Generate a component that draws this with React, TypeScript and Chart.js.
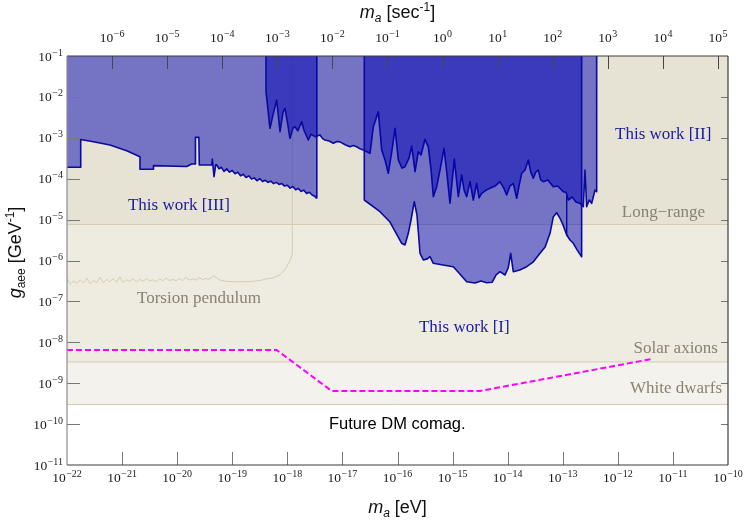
import React, { useEffect, useRef } from 'react';
import { Chart, registerables } from 'chart.js';

Chart.register(...registerables);

// All values are log10: x = log10(m_a / eV), y = log10(g_aee / GeV^-1)
const HBAR_EV_S = 6.582e-16;
const xMinEv = -22;
const xMaxEv = -10;
const yMinG = -11;
const yMaxG = -1;
const xTicksEv = [-22, -21, -20, -19, -18, -17, -16, -15, -14, -13, -12, -11, -10];
const xTicksSec = [-6, -5, -4, -3, -2, -1, 0, 1, 2, 3, 4, 5];
const yTicksG = [-11, -10, -9, -8, -7, -6, -5, -4, -3, -2, -1];

const longRangeLimit = -5.12;
const solarAxionLimit = -8.48;
const whiteDwarfLimit = -9.52;

const torsionPendulum: [number, number][] = [
  [-22.0, -6.44], [-21.94, -6.58], [-21.88, -6.5], [-21.82, -6.56], [-21.76, -6.47], [-21.7, -6.55],
  [-21.64, -6.43], [-21.58, -6.57], [-21.52, -6.49], [-21.46, -6.54], [-21.4, -6.41], [-21.34, -6.55],
  [-21.28, -6.46], [-21.22, -6.52], [-21.16, -6.44], [-21.1, -6.53], [-21.04, -6.4], [-20.98, -6.54],
  [-20.92, -6.47], [-20.86, -6.51], [-20.8, -6.45], [-20.74, -6.52], [-20.68, -6.46], [-20.62, -6.51],
  [-20.56, -6.44], [-20.5, -6.5], [-20.44, -6.47], [-20.38, -6.52], [-20.32, -6.45], [-20.26, -6.5],
  [-20.2, -6.43], [-20.14, -6.49], [-20.08, -6.46], [-20.02, -6.5], [-19.96, -6.44], [-19.9, -6.49],
  [-19.84, -6.41], [-19.78, -6.48], [-19.72, -6.45], [-19.66, -6.48], [-19.6, -6.42], [-19.54, -6.47],
  [-19.48, -6.44], [-19.42, -6.46], [-19.36, -6.4], [-19.33, -6.37], [-19.29, -6.42], [-19.22, -6.48],
  [-19.1, -6.51], [-18.95, -6.52], [-18.8, -6.52], [-18.65, -6.51], [-18.5, -6.49], [-18.38, -6.45],
  [-18.25, -6.42], [-18.15, -6.36], [-18.08, -6.28], [-18.02, -6.17], [-17.97, -6.05], [-17.935, -5.95],
  [-17.915, -5.85], [-17.91, -5.6], [-17.91, -1],
];

const thisWorkIII: [number, number][] = [
  [-22.0, -3.72], [-21.751, -3.72], [-21.751, -3.04], [-21.52, -3.095], [-21.22, -3.176], [-20.916, -3.315],
  [-20.675, -3.462], [-20.675, -3.77], [-20.43, -3.77], [-20.43, -3.68], [-19.827, -3.7], [-19.737, -3.64],
  [-19.676, -3.64], [-19.668, -2.99], [-19.606, -2.99], [-19.598, -3.665], [-19.373, -3.665], [-19.362, -3.518],
  [-19.331, -3.951], [-19.3, -3.66], [-19.28, -3.66], [-19.24, -3.76], [-19.2, -3.72], [-19.15, -3.82],
  [-19.1, -3.76], [-19.05, -3.84], [-19.0, -3.8], [-18.95, -3.88], [-18.9, -3.84], [-18.85, -3.93],
  [-18.8, -3.89], [-18.75, -3.97], [-18.7, -3.93], [-18.65, -4.01], [-18.6, -3.98], [-18.55, -4.05],
  [-18.5, -4.0], [-18.45, -4.07], [-18.4, -4.04], [-18.35, -4.09], [-18.3, -4.06], [-18.25, -4.12],
  [-18.2, -4.09], [-18.15, -4.14], [-18.1, -4.12], [-18.05, -4.18], [-18.0, -4.16], [-17.95, -4.23],
  [-17.9, -4.19], [-17.85, -4.27], [-17.8, -4.24], [-17.75, -4.31], [-17.7, -4.28], [-17.65, -4.36],
  [-17.6, -4.33], [-17.55, -4.4], [-17.5, -4.43], [-17.48, -4.47], [-17.465, -4.47], [-17.465, -1],
];

const thisWorkII: [number, number][] = [
  [-18.387, -1], [-18.387, -1.873], [-18.315, -2.768], [-18.26, -2.44], [-18.193, -2.076], [-18.133, -2.851],
  [-18.078, -2.37], [-18.042, -2.279], [-17.99, -2.69], [-17.952, -3.012], [-17.897, -2.76], [-17.861, -2.729],
  [-17.81, -2.83], [-17.739, -2.606], [-17.7, -2.81], [-17.619, -3.054], [-17.57, -2.91], [-17.498, -2.973],
  [-17.407, -2.93], [-17.36, -3.02], [-17.316, -3.054], [-17.24, -3.08], [-17.165, -3.134], [-17.1, -3.09],
  [-17.044, -3.1], [-16.95, -3.17], [-16.862, -3.218], [-16.8, -3.19], [-16.735, -3.225], [-16.68, -3.27],
  [-16.62, -3.298], [-16.499, -3.379], [-16.439, -2.729], [-16.348, -2.362], [-16.287, -3.298], [-16.227, -3.54],
  [-16.167, -3.868], [-16.1, -3.3], [-16.045, -2.768], [-15.985, -3.543], [-15.918, -3.74], [-15.864, -3.707],
  [-15.79, -3.49], [-15.742, -3.2], [-15.682, -3.829], [-15.622, -3.34], [-15.573, -3.42], [-15.501, -3.037],
  [-15.441, -3.218], [-15.39, -3.79], [-15.35, -4.44], [-15.289, -4.196], [-15.228, -3.787], [-15.156, -3.257],
  [-15.1, -3.91], [-15.047, -4.601], [-14.969, -3.518], [-14.896, -4.44], [-14.835, -3.909], [-14.79, -4.28],
  [-14.744, -4.44], [-14.684, -4.073], [-14.624, -4.521], [-14.562, -4.115], [-14.52, -4.47], [-14.472, -4.357],
  [-14.39, -4.28], [-14.321, -4.235], [-14.23, -4.18], [-14.139, -4.073], [-14.07, -4.23], [-14.018, -4.399],
  [-13.96, -4.18], [-13.898, -4.115], [-13.836, -4.479], [-13.79, -4.15], [-13.745, -3.868], [-13.685, -3.787],
  [-13.625, -3.543], [-13.58, -3.84], [-13.535, -3.99], [-13.49, -3.84], [-13.444, -3.787], [-13.4, -4.03],
  [-13.353, -4.073], [-13.27, -4.03], [-13.172, -4.196], [-13.09, -4.18], [-12.99, -4.318], [-12.94, -4.33],
  [-12.899, -4.521], [-12.83, -4.45], [-12.76, -4.57], [-12.687, -4.601], [-12.627, -4.685], [-12.596, -3.787],
  [-12.566, -4.685], [-12.52, -4.52], [-12.475, -4.601], [-12.414, -4.276], [-12.384, -4.318], [-12.384, -1],
];

const thisWorkI: [number, number][] = [
  [-16.603, -1], [-16.603, -4.521], [-16.318, -4.807], [-16.136, -5.06], [-15.924, -5.579], [-15.864, -5.62],
  [-15.804, -5.335], [-15.755, -5.01], [-15.695, -4.562], [-15.646, -4.89], [-15.591, -5.824], [-15.531, -5.988],
  [-15.46, -5.96], [-15.41, -5.907], [-15.35, -6.068], [-15.174, -6.11], [-14.987, -6.152], [-14.9, -6.28],
  [-14.744, -6.518], [-14.593, -6.55], [-14.484, -6.5], [-14.381, -6.543], [-14.28, -6.53], [-14.21, -6.35],
  [-14.139, -6.274], [-14.048, -6.355], [-13.99, -6.18], [-13.945, -5.824], [-13.898, -6.274], [-13.78, -6.23],
  [-13.655, -6.152], [-13.54, -6.04], [-13.413, -5.824], [-13.32, -5.67], [-13.231, -5.335], [-13.171, -4.929],
  [-13.11, -4.831], [-13.05, -4.968], [-12.995, -5.13], [-12.928, -5.377], [-12.868, -5.5], [-12.808, -5.579],
  [-12.74, -5.74], [-12.657, -5.907], [-12.657, -1],
];

const thisWorkISplit: [number, number][] = [[-12.928, -4.44], [-12.928, -5.377]];

const futureComag: [number, number][] = [
  [-22.0, -8.188], [-18.193, -8.188], [-17.195, -9.19], [-14.5, -9.19], [-11.385, -8.408],
];

const regionLabels = [
  { text: 'This work [III]', x: -20.893, y: -4.765, kind: 'blue', align: 'left' },
  { text: 'This work [I]', x: -15.61, y: -7.748, kind: 'blue', align: 'left' },
  { text: 'This work [II]', x: -12.051, y: -3.029, kind: 'blue', align: 'left' },
  { text: 'Long\u2212range', x: -10.417, y: -4.936, kind: 'tan', align: 'right' },
  { text: 'Torsion pendulum', x: -20.729, y: -7.039, kind: 'tan', align: 'left' },
  { text: 'Solar axions', x: -10.182, y: -8.254, kind: 'tan', align: 'right' },
  { text: 'White dwarfs', x: -10.109, y: -9.24, kind: 'tan', align: 'right' },
  { text: 'Future DM comag.', x: -17.244, y: -10.12, kind: 'black', align: 'left' },
];

const SERIF = '"Liberation Serif", "DejaVu Serif", serif';
const SANS = '"Liberation Sans", Arial, sans-serif';
const BASE_FONT = `13.5px ${SERIF}`;
const EXP_FONT = `10px ${SERIF}`;

const expText = (e: number) => String(Math.round(e)).replace('-', '\u2212');

// draws "10^e" with a raised exponent; align: 'center' | 'right'
function drawPow(ctx: CanvasRenderingContext2D, e: number, x: number, baseline: number, align: 'center' | 'right') {
  const ex = expText(e);
  ctx.font = BASE_FONT;
  const wb = ctx.measureText('10').width;
  ctx.font = EXP_FONT;
  const we = ctx.measureText(ex).width;
  const total = wb + 0.5 + we;
  const x0 = align === 'center' ? x - total / 2 : x - total;
  ctx.textAlign = 'left';
  ctx.textBaseline = 'alphabetic';
  ctx.font = BASE_FONT;
  ctx.fillText('10', x0, baseline);
  ctx.font = EXP_FONT;
  ctx.fillText(ex, x0 + wb + 0.5, baseline - 5);
}

type Part = { t: string; f: string; dy: number };
function drawRich(ctx: CanvasRenderingContext2D, parts: Part[], x: number, y: number) {
  let total = 0;
  for (const p of parts) {
    ctx.font = p.f;
    total += ctx.measureText(p.t).width;
  }
  let cx = x - total / 2;
  ctx.textAlign = 'left';
  ctx.textBaseline = 'alphabetic';
  for (const p of parts) {
    ctx.font = p.f;
    ctx.fillText(p.t, cx, y + p.dy);
    cx += ctx.measureText(p.t).width;
  }
}

const decor = {
  id: 'decor',
  afterDatasetsDraw(chart: any) {
    const { ctx, chartArea: ca, scales } = chart;
    const L = ca.left, R = ca.right, T = ca.top, B = ca.bottom;
    ctx.save();
    const seg = (x1: number, y1: number, x2: number, y2: number) => {
      ctx.beginPath();
      ctx.moveTo(x1, y1);
      ctx.lineTo(x2, y2);
      ctx.stroke();
    };
    ctx.lineWidth = 1;
    // tick marks (inward)
    ctx.strokeStyle = 'rgb(120,120,120)';
    for (const v of xTicksEv.slice(1, -1)) {
      const px = Math.round(scales.x.getPixelForValue(v)) + 0.5;
      seg(px, B, px, B - 13);
    }
    for (const v of yTicksG.slice(1, -1)) {
      const py = Math.round(scales.y.getPixelForValue(v)) + 0.5;
      seg(L, py, L + 13, py);
      seg(R, py, R - 7, py);
    }
    ctx.strokeStyle = 'rgb(70,70,70)';
    for (const v of xTicksSec) {
      const px = Math.round(scales.x2.getPixelForValue(v)) + 0.5;
      seg(px, T, px, T + 13);
    }
    // frame
    ctx.lineWidth = 1.2;
    ctx.strokeStyle = 'rgb(60,60,60)';
    seg(L, T, R, T);
    seg(L, B, R, B);
    seg(R, T, R, B);
    ctx.strokeStyle = 'rgb(140,140,140)';
    seg(L, T, L, B);

    // tick labels
    ctx.fillStyle = '#1a1a1a';
    for (const v of xTicksEv) drawPow(ctx, v, scales.x.getPixelForValue(v), B + 17, 'center');
    for (const v of xTicksSec) drawPow(ctx, v, scales.x2.getPixelForValue(v), T - 14, 'center');
    for (const v of yTicksG) drawPow(ctx, v, L - 4, scales.y.getPixelForValue(v) + 4.5, 'right');

    // region labels
    for (const lb of regionLabels) {
      const px = scales.x.getPixelForValue(lb.x);
      const py = scales.y.getPixelForValue(lb.y);
      if (lb.kind === 'black') {
        ctx.font = `16.5px ${SANS}`;
        ctx.fillStyle = '#000';
      } else if (lb.kind === 'blue') {
        ctx.font = `17px ${SERIF}`;
        ctx.fillStyle = 'rgb(25,25,165)';
      } else {
        ctx.font = `17px ${SERIF}`;
        ctx.fillStyle = 'rgb(135,130,115)';
      }
      ctx.textAlign = lb.align as CanvasTextAlign;
      ctx.textBaseline = 'alphabetic';
      ctx.fillText(lb.text, px, py);
    }

    // axis titles
    ctx.fillStyle = '#111';
    const cx = (L + R) / 2;
    const big = `18px ${SANS}`;
    const bigI = `italic 18px ${SANS}`;
    const smI = `italic 12px ${SANS}`;
    const sm = `12px ${SANS}`;
    drawRich(ctx, [
      { t: 'm', f: bigI, dy: 0 }, { t: 'a', f: smI, dy: 4 }, { t: ' [eV]', f: big, dy: 0 },
    ], cx, 513);
    drawRich(ctx, [
      { t: 'm', f: bigI, dy: 0 }, { t: 'a', f: smI, dy: 4 }, { t: ' [sec', f: big, dy: 0 },
      { t: '-1', f: sm, dy: -7 }, { t: ']', f: big, dy: 0 },
    ], cx, 18);
    ctx.save();
    ctx.translate(21, (T + B) / 2 - 8);
    ctx.rotate(-Math.PI / 2);
    drawRich(ctx, [
      { t: 'g', f: bigI, dy: 0 }, { t: 'aee', f: sm, dy: 4 }, { t: ' [GeV', f: big, dy: 0 },
      { t: '-1', f: sm, dy: -7 }, { t: ']', f: big, dy: 0 },
    ], 0, 0);
    ctx.restore();
    ctx.restore();
  },
};

export default function App() {
  const ref = useRef<HTMLCanvasElement>(null);
  useEffect(() => {
    const canvas = ref.current;
    if (!canvas) return;
    const pts = (a: [number, number][]) => a.map(([x, y]) => ({ x, y }));
    const band = (v: number) => [{ x: xMinEv, y: v }, { x: xMaxEv, y: v }];
    const tan = 'rgb(214,204,178)';
    const blueFill = 'rgba(0,0,180,0.49)';
    const blueLine = 'rgb(10,10,160)';
    const fixTicks = (vals: number[]) => (s: any) => {
      s.ticks = vals.map((v) => ({ value: v }));
    };
    const axisBase = { grid: { display: false }, border: { display: false }, ticks: { display: false } };
    const chart = new Chart(canvas, {
      type: 'line',
      data: {
        datasets: [
          { label: 'White dwarfs', data: band(whiteDwarfLimit), fill: 'end', backgroundColor: 'rgb(244,242,236)', borderColor: tan, borderWidth: 1, order: 10 },
          { label: 'Solar axions', data: band(solarAxionLimit), fill: 'end', backgroundColor: 'rgb(238,235,225)', borderColor: tan, borderWidth: 1, order: 9 },
          { label: 'Long-range', data: band(longRangeLimit), fill: 'end', backgroundColor: 'rgb(230,226,212)', borderColor: tan, borderWidth: 1, order: 8 },
          { label: 'Torsion pendulum', data: pts(torsionPendulum), fill: false, borderColor: tan, borderWidth: 1, order: 7 },
          { label: 'This work [III]', data: pts(thisWorkIII), fill: 'end', backgroundColor: blueFill, borderColor: blueLine, borderWidth: 1.6, order: 6 },
          { label: 'This work [II]', data: pts(thisWorkII), fill: 'end', backgroundColor: blueFill, borderColor: blueLine, borderWidth: 1.6, order: 5 },
          { label: 'This work [I]', data: pts(thisWorkI), fill: 'end', backgroundColor: blueFill, borderColor: blueLine, borderWidth: 1.6, order: 4 },
          { label: 'This work [I] edge', data: pts(thisWorkISplit), fill: false, borderColor: blueLine, borderWidth: 1.4, order: 3 },
          { label: 'Future DM comag.', data: pts(futureComag), fill: false, borderColor: '#ff00ff', borderWidth: 2, borderDash: [6, 3], order: 1 },
        ],
      },
      options: {
        responsive: false,
        animation: false,
        layout: { padding: 0 },
        elements: { point: { radius: 0 }, line: { tension: 0, borderJoinStyle: 'round' } },
        plugins: { legend: { display: false }, tooltip: { enabled: false } },
        scales: {
          x: {
            ...axisBase, type: 'linear', position: 'bottom', min: xMinEv, max: xMaxEv,
            afterBuildTicks: fixTicks(xTicksEv),
            afterFit: (s: any) => { s.height = 56; },
          },
          x2: {
            ...axisBase, type: 'linear', position: 'top',
            min: xMinEv - Math.log10(HBAR_EV_S), max: xMaxEv - Math.log10(HBAR_EV_S),
            afterBuildTicks: fixTicks(xTicksSec),
            afterFit: (s: any) => { s.height = 56; },
          },
          y: {
            ...axisBase, type: 'linear', position: 'left', min: yMinG, max: yMaxG,
            afterBuildTicks: fixTicks(yTicksG),
            afterFit: (s: any) => { s.width = 67; },
          },
          y2: {
            ...axisBase, type: 'linear', position: 'right', min: yMinG, max: yMaxG,
            afterBuildTicks: fixTicks(yTicksG),
            afterFit: (s: any) => { s.width = 19; },
          },
        },
      } as any,
      plugins: [decor],
    });
    return () => chart.destroy();
  }, []);
  return (
    <div style={{ position: 'fixed', left: 0, top: 0, width: 747, height: 521, background: '#fff' }}>
      <canvas ref={ref} width={747} height={521} style={{ display: 'block' }} />
    </div>
  );
}
